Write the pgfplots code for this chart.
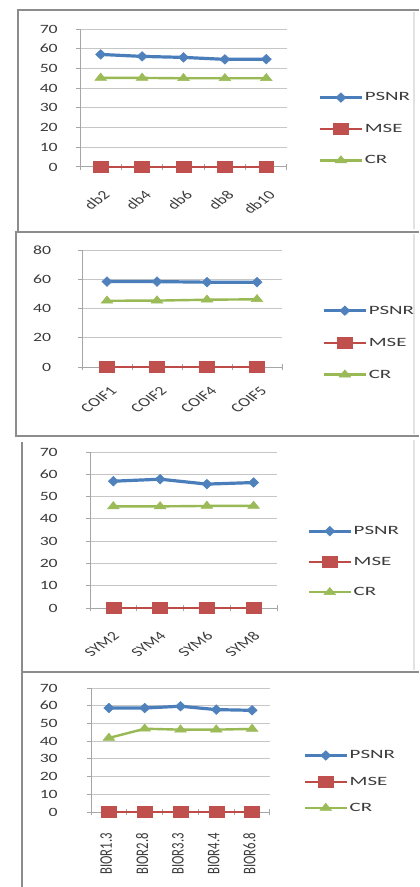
\documentclass[border=0pt]{standalone}
\usepackage{pgfplots}
\pgfplotsset{compat=1.18}
\usepackage{fontspec}
\setmainfont{Carlito}
\newfontfamily\widefont{Carlito}[FakeStretch=1.4]
\newfontfamily\legendfont{Carlito}[FakeStretch=1.65]

\definecolor{psnr}{HTML}{4A7EBB}
\definecolor{psnrmk}{HTML}{4F81BD}
\definecolor{mse}{HTML}{BE4B48}
\definecolor{msemk}{HTML}{C0504D}
\definecolor{cr}{HTML}{98B954}
\definecolor{crmk}{HTML}{9BBB59}
\definecolor{gridgray}{HTML}{C6C6C6}
\definecolor{axisgray}{HTML}{A6A6A6}
\definecolor{framegray}{HTML}{8C8C8C}
\definecolor{labelgray}{HTML}{3C3C3C}

\pgfplotsset{
  panel/.style={
    scale only axis,
    axis lines*=left,
    axis line style={axisgray, line width=0.75pt},
    ymin=0,
    ymajorgrids,
    grid style={gridgray, line width=0.75pt},
    xtick=data,
    major x tick style={draw=none},
    ytick style={axisgray, line width=0.75pt},
    major tick length=3pt,
    tick align=outside,
    clip=false,
    /pgf/number format/assume math mode=true,
    yticklabel style={font=\widefont\fontsize{9.5}{10}\selectfont, text=labelgray, anchor=east, inner sep=0pt},
    xticklabel style={font=\fontsize{9.5}{10}\selectfont, text=labelgray, inner sep=0pt},
    extra x tick style={grid=none, tick align=center, major tick length=5pt,
      xticklabel={},
      major x tick style={draw=axisgray, line width=0.75pt}},
    legend style={draw=none, fill=none, inner sep=0pt, anchor=west,
      font=\legendfont\fontsize{9.5}{10}\selectfont, text=labelgray,
      nodes={inner sep=1pt, text height=7pt, text depth=2pt}},
    legend cell align=left,
    legend image code/.code={\draw[mark repeat=2, mark phase=2]
      plot coordinates {(0pt,0pt) (15.75pt,0pt) (31.5pt,0pt)};},
  },
  psnrline/.style={color=psnr, line width=2.4pt, mark=diamond*, mark size=3.6pt,
    mark options={fill=psnrmk, draw=psnrmk, line width=0.4pt, xscale=1.4}},
  mseline/.style={color=mse, line width=1.6pt, mark=square*, mark size=4pt,
    mark options={fill=msemk, draw=msemk, line width=0.4pt, xscale=1.4}},
  crline/.style={color=cr, line width=1.8pt, mark=triangle*, mark size=3.6pt,
    mark options={fill=crmk, draw=crmk, line width=0.4pt, xscale=1.4}},
}

% Daubechies family
\pgfplotstableread{
x psnr  mse cr
0 57.1  0   45.2
1 56.1  0   45.2
2 55.6  0   45.0
3 54.6  0   45.0
4 54.7  0   45.0
}\dbdata
% Coiflet family
\pgfplotstableread{
x psnr  mse cr
0 58.4  0   45.3
1 58.4  0   45.4
2 58.0  0   46.0
3 58.0  0   46.3
}\coifdata
% Symlet family
\pgfplotstableread{
x psnr  mse cr
0 56.9  0   45.6
1 57.8  0   45.6
2 55.6  0   45.8
3 56.3  0   45.8
}\symdata
% Biorthogonal family
\pgfplotstableread{
x psnr  mse cr
0 58.7  0   41.8
1 58.7  0   47.0
2 59.7  0   46.5
3 57.8  0   46.5
4 57.4  0   46.9
}\biordata

\begin{document}
\begin{tikzpicture}
\useasboundingbox[fill=white] (0,0) rectangle ({419*0.75pt},{-887*0.75pt});

% panel frames
\begin{scope}[x=0.75pt, y=-0.75pt, framegray, line width=0.8pt]
  \draw (419,10) -- (18,10) -- (18,231);
  \draw (419,232) -- (16,232) -- (16,436) -- (419,436);
  \draw (22,442) -- (22,887);
  \draw (22,672) -- (419,672);
  \draw[framegray!25] (414,12) -- (414,229);
  \draw[framegray!25] (414,234) -- (414,434);
  \draw[framegray!25] (414,440) -- (414,670);
\end{scope}

% --- db ---
\begin{axis}[panel,
  at={({80*0.75pt},{-167*0.75pt})}, anchor=south west,
  width={207*0.75pt}, height={138*0.75pt},
  xmin=-0.5, xmax=4.5, ymax=70, ytick distance=10,
  xticklabels={db2,db4,db6,db8,db10},
  extra x ticks={-0.5,0.5,1.5,2.5,3.5,4.5},
  xticklabel style={xshift=1pt, yshift=-14pt, xscale=1.4, rotate=45, anchor=north east},
  yticklabel style={xshift=-13.5pt},
  legend style={at={(1.150,0.275)}, row sep=12.6pt},
]
\addplot[psnrline] table[x=x, y=psnr] {\dbdata};
\addplot[mseline] table[x=x, y=mse] {\dbdata};
\addplot[crline] table[x=x, y=cr] {\dbdata};
\legend{PSNR,MSE,CR}
\end{axis}

% --- coif ---
\begin{axis}[panel,
  at={({82*0.75pt},{-367*0.75pt})}, anchor=south west,
  width={200*0.75pt}, height={117*0.75pt},
  xmin=-0.5, xmax=3.5, ymax=80, ytick distance=20,
  xticklabels={COIF1,COIF2,COIF4,COIF5},
  extra x ticks={-0.5,0.5,1.5,2.5,3.5},
  xticklabel style={xshift=2pt, yshift=-11pt, xscale=1.4, rotate=45, anchor=north east},
  yticklabel style={xshift=-20pt},
  legend style={at={(1.200,0.208)}, row sep=13pt},
]
\addplot[psnrline] table[x=x, y=psnr] {\coifdata};
\addplot[mseline] table[x=x, y=mse] {\coifdata};
\addplot[crline] table[x=x, y=cr] {\coifdata};
\legend{PSNR,MSE,CR}
\end{axis}

% --- sym ---
\begin{axis}[panel,
  at={({90*0.75pt},{-608*0.75pt})}, anchor=south west,
  width={187*0.75pt}, height={156*0.75pt},
  xmin=-0.5, xmax=3.5, ymax=70, ytick distance=10,
  xticklabels={SYM2,SYM4,SYM6,SYM8},
  extra x ticks={-0.5,0.5,1.5,2.5,3.5},
  xticklabel style={xshift=-1pt, yshift=-14pt, xscale=1.4, rotate=45, anchor=north east},
  yticklabel style={xshift=-21pt},
  legend style={at={(1.160,0.297)}, row sep=11.9pt},
]
\addplot[psnrline] table[x=x, y=psnr] {\symdata};
\addplot[mseline] table[x=x, y=mse] {\symdata};
\addplot[crline] table[x=x, y=cr] {\symdata};
\legend{PSNR,MSE,CR}
\end{axis}

% --- bior ---
\begin{axis}[panel,
  at={({91*0.75pt},{-812*0.75pt})}, anchor=south west,
  width={179*0.75pt}, height={124*0.75pt},
  xmin=-0.5, xmax=4.5, ymax=70, ytick distance=10,
  xticklabels={BIOR1.3,BIOR2.8,BIOR3.3,BIOR4.4,BIOR6.8},
  extra x ticks={-0.5,0.5,1.5,2.5,3.5,4.5},
  xticklabel style={xshift=-2pt, yshift=-12.75pt, xscale=1.4, rotate=90, anchor=east},
  yticklabel style={xshift=-21.75pt},
  legend style={at={(1.184,0.244)}, row sep=8.7pt},
]
\addplot[psnrline] table[x=x, y=psnr] {\biordata};
\addplot[mseline] table[x=x, y=mse] {\biordata};
\addplot[crline] table[x=x, y=cr] {\biordata};
\legend{PSNR,MSE,CR}
\end{axis}
\end{tikzpicture}
\end{document}
